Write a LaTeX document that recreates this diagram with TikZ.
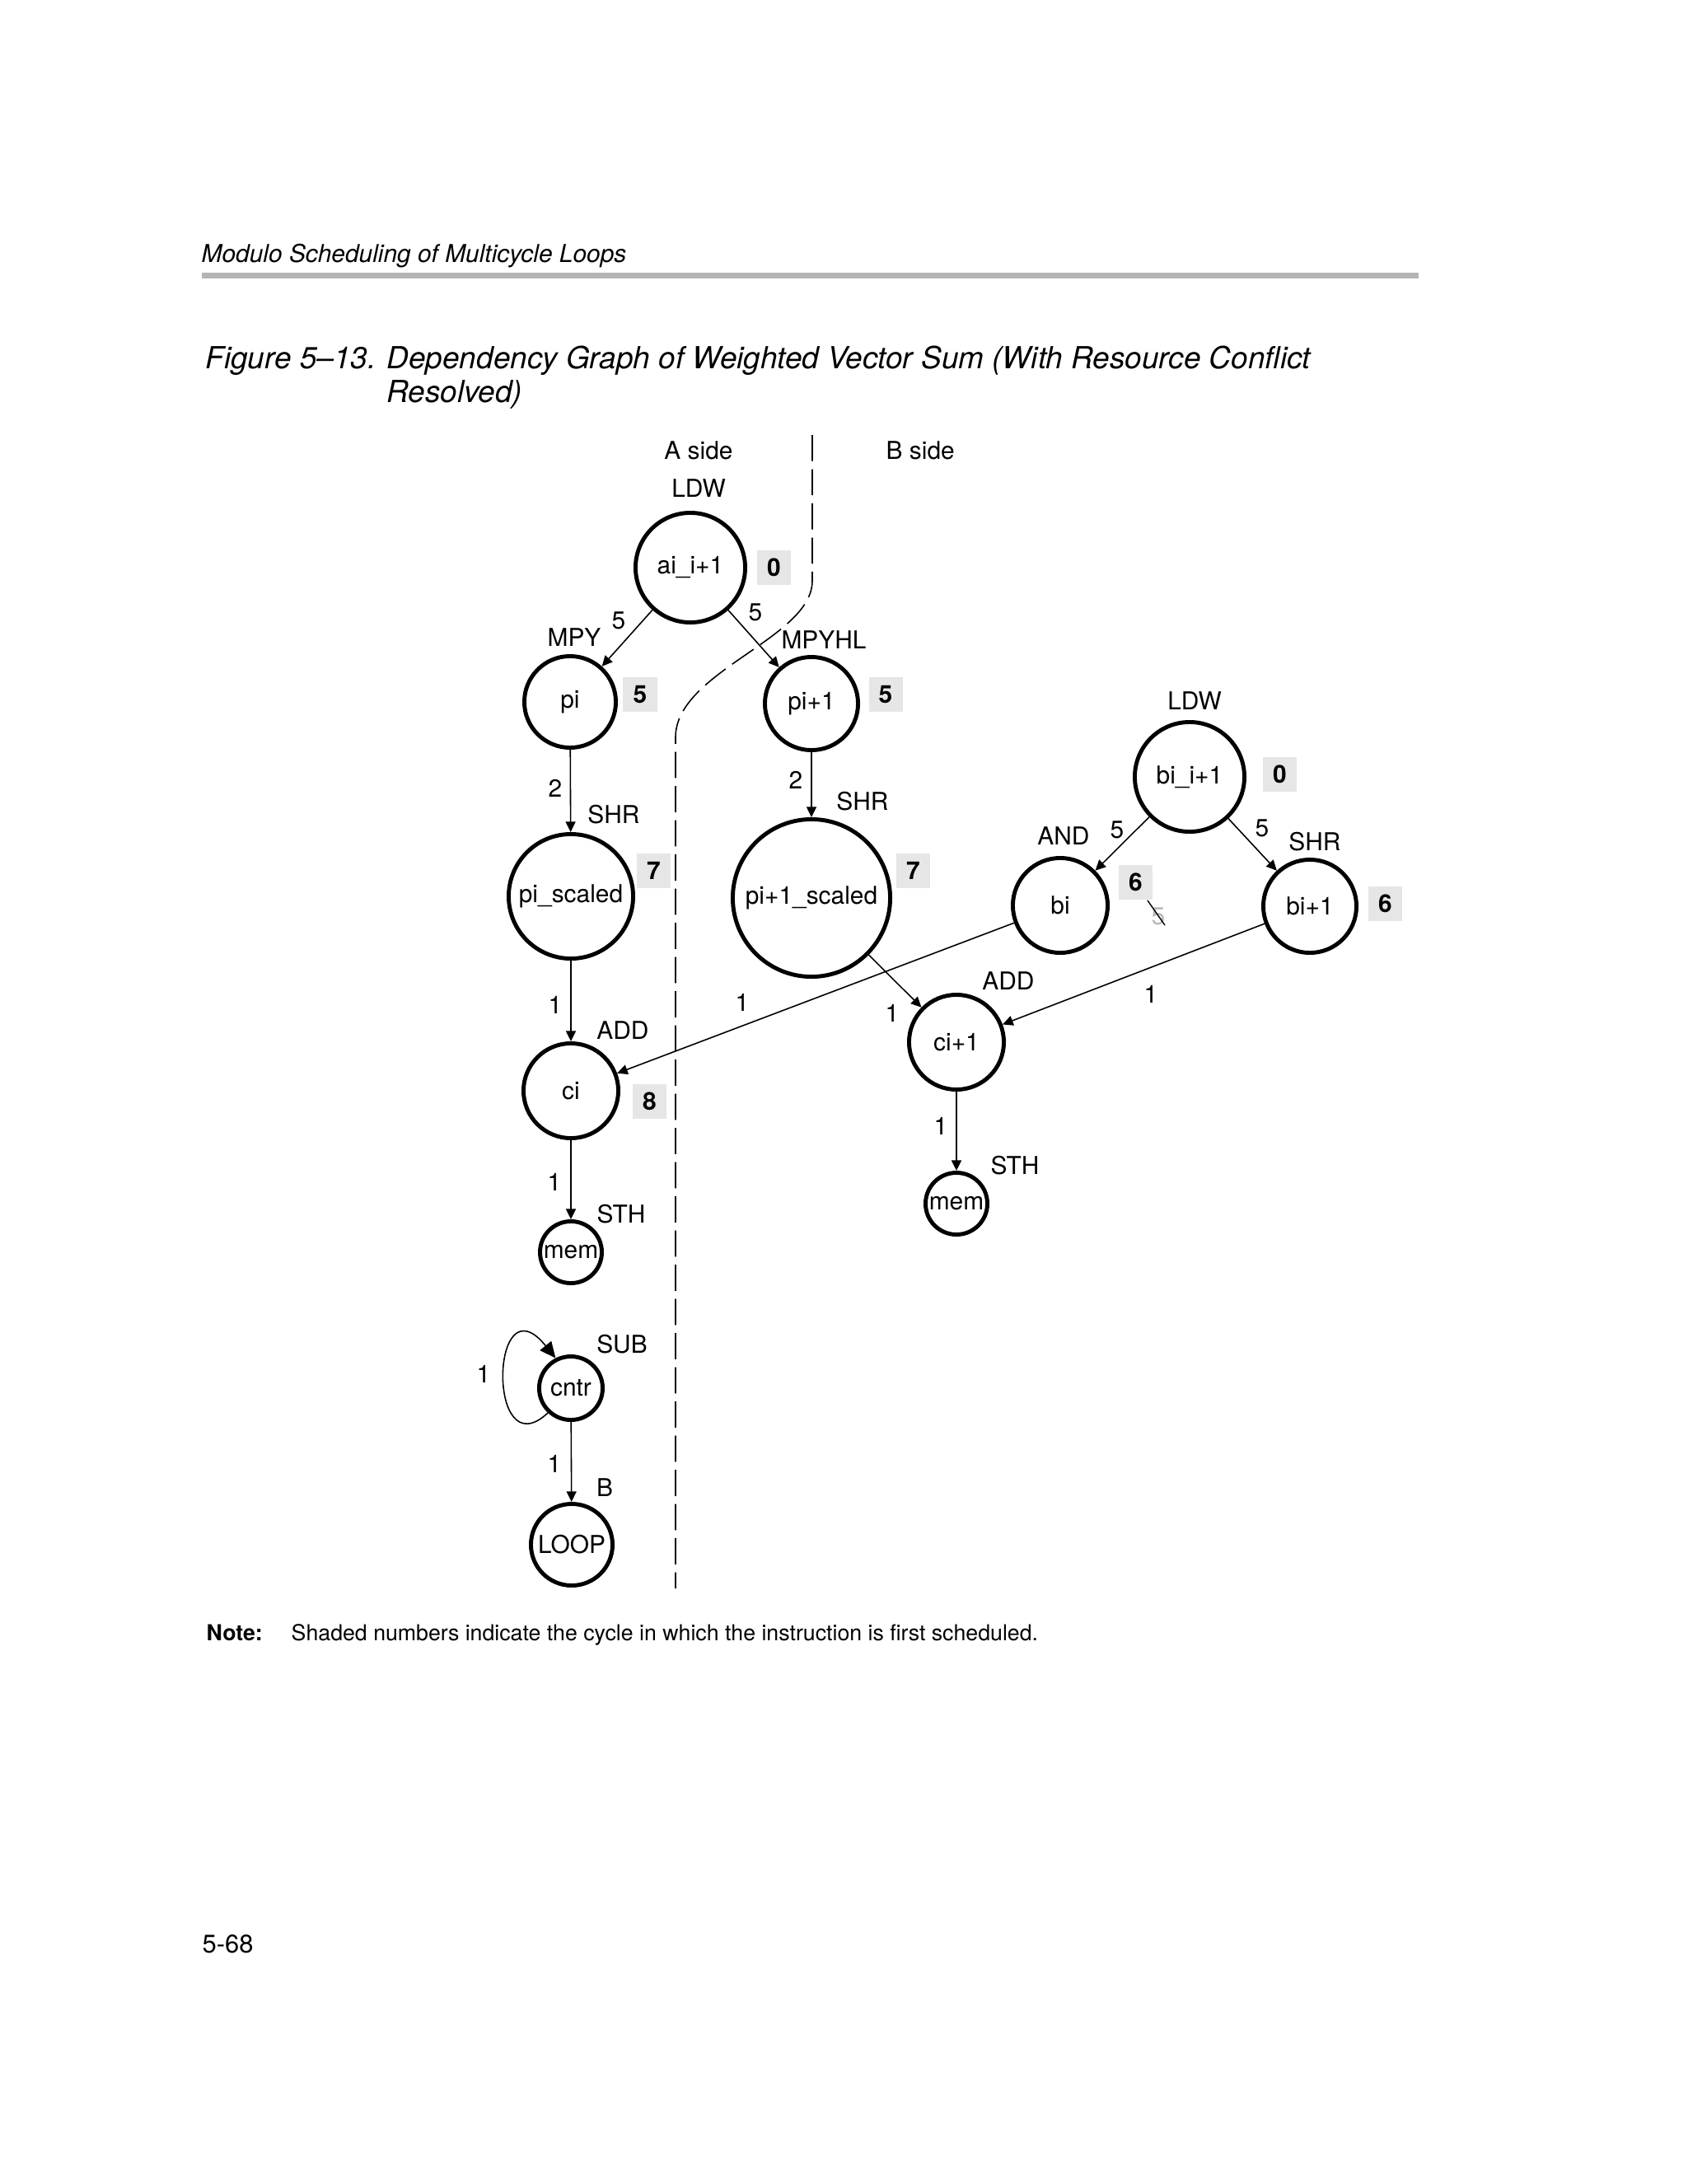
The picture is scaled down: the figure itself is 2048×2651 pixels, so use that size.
\documentclass[tikz,border=0pt]{standalone}
\usepackage{fontspec}
\setmainfont{TeX Gyre Heros}
\usetikzlibrary{arrows.meta}
\definecolor{shade}{HTML}{E6E6E6}
\definecolor{rulegray}{HTML}{B4B4B4}
\definecolor{ghost}{HTML}{B8B8B8}
\begin{document}
\begin{tikzpicture}[x=0.01cm, y=-0.01cm,
                    every node/.style={inner sep=0pt, font=\fontsize{8.5}{10}\selectfont},
                    vertex/.style={circle, draw, line width=1.4pt, minimum size=#1},
                    cyclebox/.style={fill=shade, minimum width=0.41cm, minimum height=0.42cm,
                                     font=\fontsize{8.5}{10}\selectfont\bfseries},
                    dep/.style={-{Triangle[length=3.6pt, width=3.4pt]}, line width=0.45pt},
                    divider/.style={line width=0.45pt, dash pattern=on 9pt off 2.8pt}]
  \useasboundingbox (0,0) rectangle (2048,2651);
  \node[anchor=base west, font=\fontsize{8.5}{10}\selectfont\itshape] (header) at (244,318) {Modulo Scheduling of Multicycle Loops};
  \draw[rulegray, line width=2pt] (245,334.5) -- (1722,334.5);
  \node[anchor=base west, font=\fontsize{10.5}{12}\selectfont\itshape] (figlabel) at (249,447) {Figure 5–13.};
  \node[anchor=base west, font=\fontsize{10.5}{12}\selectfont\itshape] (title) at (469,447) {Dependency Graph of Weighted Vector Sum (With Resource Conflict};
  \node[anchor=base west, font=\fontsize{10.5}{12}\selectfont\itshape] (title_end) at (469,488) {Resolved)};
  \node (a_side) at (848,547) {A side};
  \node[anchor=west] (b_side) at (1075,547) {B side};
  \coordinate (div_top) at (986,528);
  \coordinate (div_bend_a) at (986,705);
  \coordinate (div_bend_b) at (820,895);
  \coordinate (div_end) at (820,1928);
  \draw[divider] (div_top) -- (div_bend_a) .. controls (986,775) and (820,815) .. (div_bend_b) -- (div_end);
  \node (ldw_a) at (848,593) {LDW};
  \node[vertex=1.33cm] (ai_i1) at (838,689) {ai\_i+1};
  \node[cyclebox] (c_ai_i1) at (939.5,689) {0};
  \node (mpy) at (697,774) {MPY};
  \node (mpyhl) at (1000,777) {MPYHL};
  \node[vertex=1.11cm] (pi) at (692,852) {pi};
  \node[cyclebox] (c_pi) at (777,843) {5};
  \node[vertex=1.13cm] (pi1) at (985,854) {pi+1};
  \node[cyclebox] (c_pi1) at (1075,843) {5};
  \node (shr_a) at (745,989) {SHR};
  \node[vertex=1.51cm] (pi_scaled) at (693,1088) {pi\_scaled};
  \node[cyclebox] (c_pi_scaled) at (793.5,1057) {7};
  \node (shr_b) at (1047,973) {SHR};
  \node[vertex=1.91cm] (pi1_scaled) at (985,1090) {pi+1\_scaled};
  \node[cyclebox] (c_pi1_scaled) at (1108.5,1056.5) {7};
  \node (ldw_b) at (1450,851) {LDW};
  \node[vertex=1.33cm] (bi_i1) at (1444,943) {bi\_i+1};
  \node[cyclebox] (c_bi_i1) at (1553.5,940) {0};
  \node (and) at (1291,1015) {AND};
  \node[vertex=1.15cm] (bi) at (1287,1099) {bi};
  \node[cyclebox] (c_bi) at (1378.5,1071) {6};
  \node (shr_c) at (1596,1022) {SHR};
  \node[vertex=1.13cm] (bi1) at (1590,1100) {bi+1};
  \node[cyclebox] (c_bi1) at (1681.5,1097) {6};
  \node (add_a) at (756,1251) {ADD};
  \node[vertex=1.15cm] (ci) at (693,1324) {ci};
  \node[cyclebox] (c_ci) at (788.5,1336.5) {8};
  \node (add_b) at (1224,1191) {ADD};
  \node[vertex=1.15cm] (ci1) at (1161,1265) {ci+1};
  \node (sth_a) at (754,1474) {STH};
  \node[vertex=0.75cm] (mem_a) at (693,1520) {mem};
  \node (sth_b) at (1232,1415) {STH};
  \node[vertex=0.75cm] (mem_b) at (1161,1461) {mem};
  \node (sub) at (755,1632) {SUB};
  \node[vertex=0.77cm] (cntr) at (693,1685) {cntr};
  \node (br) at (734,1806) {B};
  \node[vertex=0.99cm] (loop) at (694,1875) {LOOP};
  \node (l_ai_pi) at (751,753) {5};
  \node (l_ai_pi1) at (917,743) {5};
  \node (l_pi) at (674,957) {2};
  \node (l_pi1) at (966,947) {2};
  \node (l_bi) at (1356,1007) {5};
  \node (l_bi1) at (1532,1005) {5};
  \node (l_pi_scaled) at (674,1220) {1};
  \node (l_bi_ci) at (901,1217) {1};
  \node (l_pi1_scaled) at (1083,1230) {1};
  \node (l_bi1_ci1) at (1397,1207) {1};
  \node (l_ci) at (673,1435) {1};
  \node (l_ci1) at (1142,1367) {1};
  \node (l_cntr_self) at (587,1668) {1};
  \node (l_cntr) at (673,1777) {1};
  \node[text=ghost] (ghost_lat) at (1406,1112) {5};
  \draw[line width=0.4pt] (1393,1093) -- (1414,1123);
  \draw[dep] (ai_i1) -- (pi);
  \draw[dep] (ai_i1) -- (pi1);
  \draw[dep] (pi) -- (pi_scaled);
  \draw[dep] (pi1) -- (pi1_scaled);
  \draw[dep] (pi_scaled) -- (ci);
  \draw[dep] (pi1_scaled) -- (ci1);
  \draw[dep] (bi_i1) -- (bi);
  \draw[dep] (bi_i1) -- (bi1);
  \draw[dep] (bi) -- (ci);
  \draw[dep] (bi1) -- (ci1);
  \draw[dep] (ci) -- (mem_a);
  \draw[dep] (ci1) -- (mem_b);
  \draw[dep, -{Triangle[length=5.5pt, width=5pt]}] (cntr.227) .. controls (590,1785) and (595,1550) .. (cntr.117);
  \draw[dep] (cntr) -- (loop);
  \node[anchor=base west, font=\fontsize{7.6}{9}\selectfont\bfseries] (note) at (250,1991) {Note:};
  \node[anchor=base west, font=\fontsize{7.6}{9}\selectfont] (note_text) at (353,1991) {Shaded numbers indicate the cycle in which the instruction is first scheduled.};
  \node[anchor=base west, font=\fontsize{8.8}{10}\selectfont] (page) at (245,2370) {5-68};
\end{tikzpicture}
\end{document}
